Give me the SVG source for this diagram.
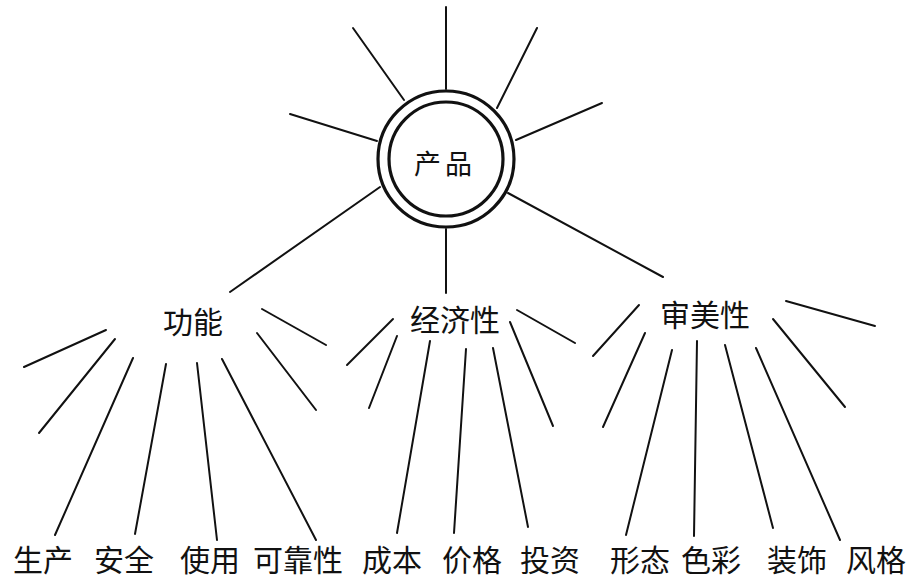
<svg xmlns="http://www.w3.org/2000/svg" width="919" height="588" viewBox="0 0 919 588">
<style>
.bg{fill:#ffffff}
.ln{stroke:#111;stroke-width:2;stroke-linecap:round;fill:none}
.ring{stroke:#111;stroke-width:3.2;fill:none}
.t{font-family:"Noto Sans CJK SC","Noto Sans",sans-serif;fill:#111;text-anchor:middle}
.c{font-size:27px;letter-spacing:4px}
.m{font-size:30px}
.b{font-size:30px}
</style>
<rect class="bg" x="0" y="0" width="919" height="588"/>
<g id="connectors">
<line class="ln" x1="446" y1="7" x2="446" y2="89"/>
<line class="ln" x1="353" y1="28" x2="404" y2="100"/>
<line class="ln" x1="537" y1="28" x2="497" y2="108"/>
<line class="ln" x1="602" y1="103" x2="516" y2="140"/>
<line class="ln" x1="290" y1="114" x2="377" y2="141"/>
<line class="ln" x1="380" y1="187" x2="230" y2="292"/>
<line class="ln" x1="446" y1="229" x2="446" y2="293"/>
<line class="ln" x1="508" y1="193" x2="663" y2="277"/>
<line class="ln" x1="106" y1="330" x2="24" y2="367"/>
<line class="ln" x1="115" y1="339" x2="39" y2="433"/>
<line class="ln" x1="133" y1="358" x2="55" y2="535"/>
<line class="ln" x1="166" y1="364" x2="135" y2="534"/>
<line class="ln" x1="197" y1="363" x2="217" y2="540"/>
<line class="ln" x1="222" y1="359" x2="316" y2="540"/>
<line class="ln" x1="257" y1="333" x2="316" y2="410"/>
<line class="ln" x1="262" y1="309" x2="326" y2="345"/>
<line class="ln" x1="393" y1="319" x2="347" y2="365"/>
<line class="ln" x1="397" y1="336" x2="369" y2="408"/>
<line class="ln" x1="430" y1="341" x2="397" y2="533"/>
<line class="ln" x1="466" y1="349" x2="454" y2="533"/>
<line class="ln" x1="493" y1="348" x2="528" y2="527"/>
<line class="ln" x1="510" y1="322" x2="553" y2="426"/>
<line class="ln" x1="517" y1="310" x2="575" y2="343"/>
<line class="ln" x1="639" y1="305" x2="593" y2="356"/>
<line class="ln" x1="645" y1="333" x2="603" y2="427"/>
<line class="ln" x1="672" y1="350" x2="626" y2="535"/>
<line class="ln" x1="697" y1="341" x2="694" y2="536"/>
<line class="ln" x1="725" y1="345" x2="773" y2="528"/>
<line class="ln" x1="756" y1="348" x2="840" y2="540"/>
<line class="ln" x1="773" y1="319" x2="845" y2="407"/>
<line class="ln" x1="786" y1="301" x2="875" y2="326"/>
</g>
<g id="product">
<circle class="ring" cx="446" cy="159" r="68"/>
<circle class="ring" cx="446" cy="159" r="57"/>
<text class="t c" x="445" y="174">产品</text>
</g>
<g id="function"><text class="t m" x="193" y="333">功能</text></g>
<g id="economy"><text class="t m" x="455" y="331">经济性</text></g>
<g id="aesthetic"><text class="t m" x="705" y="326">审美性</text></g>
<g id="l-shengchan"><text class="t b" x="43" y="571">生产</text></g>
<g id="l-anquan"><text class="t b" x="124" y="571">安全</text></g>
<g id="l-shiyong"><text class="t b" x="210" y="571">使用</text></g>
<g id="l-kekaoxing"><text class="t b" x="298" y="571">可靠性</text></g>
<g id="l-chengben"><text class="t b" x="392" y="571">成本</text></g>
<g id="l-jiage"><text class="t b" x="472" y="571">价格</text></g>
<g id="l-touzi"><text class="t b" x="550" y="571">投资</text></g>
<g id="l-xingtai"><text class="t b" x="640" y="571">形态</text></g>
<g id="l-secai"><text class="t b" x="711" y="571">色彩</text></g>
<g id="l-zhuangshi"><text class="t b" x="797" y="571">装饰</text></g>
<g id="l-fengge"><text class="t b" x="876" y="571">风格</text></g>
</svg>
